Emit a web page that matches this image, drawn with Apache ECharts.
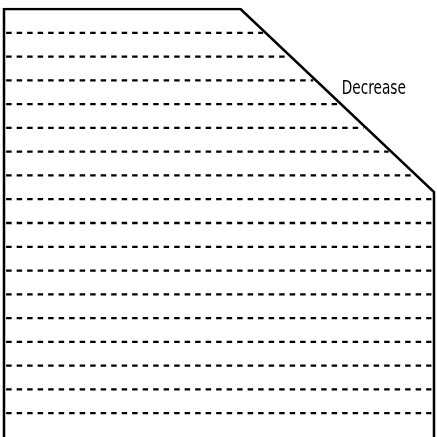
<!DOCTYPE html>
<html>
<head>
<meta charset="utf-8">
<script src="https://cdn.jsdelivr.net/npm/echarts@6/dist/echarts.min.js"></script>
<style>html,body{margin:0;padding:0;background:#fff;}#c{width:437px;height:437px;}</style>
</head>
<body>
<div id="c"></div>
<script>
// Outline of the shape (x in 0..100, y in level units)
const outlineX = [0, 0, 55, 100, 100];
const outlineY = [-1, 18, 18, 10.3, -1];
// Dashed levels
const levels = [1,2,3,4,5,6,7,8,9,10,11,12,13,14,15,16,17];
const labelText = 'Decrease';
const labelPos = [86, 14.65];

const outline = outlineX.map((x, i) => [x, outlineY[i]]);

function boundaryX(y) {
  for (let i = 1; i < outline.length - 1; i++) {
    const a = outline[i], b = outline[i + 1];
    const lo = Math.min(a[1], b[1]), hi = Math.max(a[1], b[1]);
    if (a[0] !== b[0] && y >= lo && y <= hi) {
      return a[0] + (y - a[1]) * (b[0] - a[0]) / (b[1] - a[1]);
    }
  }
  return outline[outline.length - 1][0];
}

const series = [];
levels.forEach(L => {
  series.push({
    type: 'line', silent: true, symbol: 'none', z: 2,
    data: [[0.5, L], [boundaryX(L) - 0.6, L]],
    lineStyle: { color: '#000', width: 2.3, type: [5.5, 5] }
  });
});
series.push({
  type: 'line', silent: true, symbol: 'none', z: 3,
  data: outline,
  lineStyle: { color: '#000', width: 2.5, join: 'miter' }
});

const chart = echarts.init(document.getElementById('c'), null, { renderer: 'canvas' });
chart.setOption({
  animation: false,
  backgroundColor: '#fff',
  grid: { left: 4, right: 3, top: 9, bottom: -2, containLabel: false },
  xAxis: { type: 'value', min: 0, max: 100, show: false },
  yAxis: { type: 'value', min: 0, max: 18, show: false },
  series: series
});
const p = chart.convertToPixel({ gridIndex: 0 }, labelPos);
chart.setOption({
  graphic: [{
    type: 'text', silent: true, x: p[0], y: p[1], scaleX: 0.76, z: 10,
    style: {
      text: labelText, fill: '#000', fontSize: 20,
      fontFamily: '"DejaVu Sans Condensed", "Liberation Sans Narrow", "Noto Sans", sans-serif',
      align: 'center', verticalAlign: 'middle'
    }
  }]
});
</script>
</body>
</html>
